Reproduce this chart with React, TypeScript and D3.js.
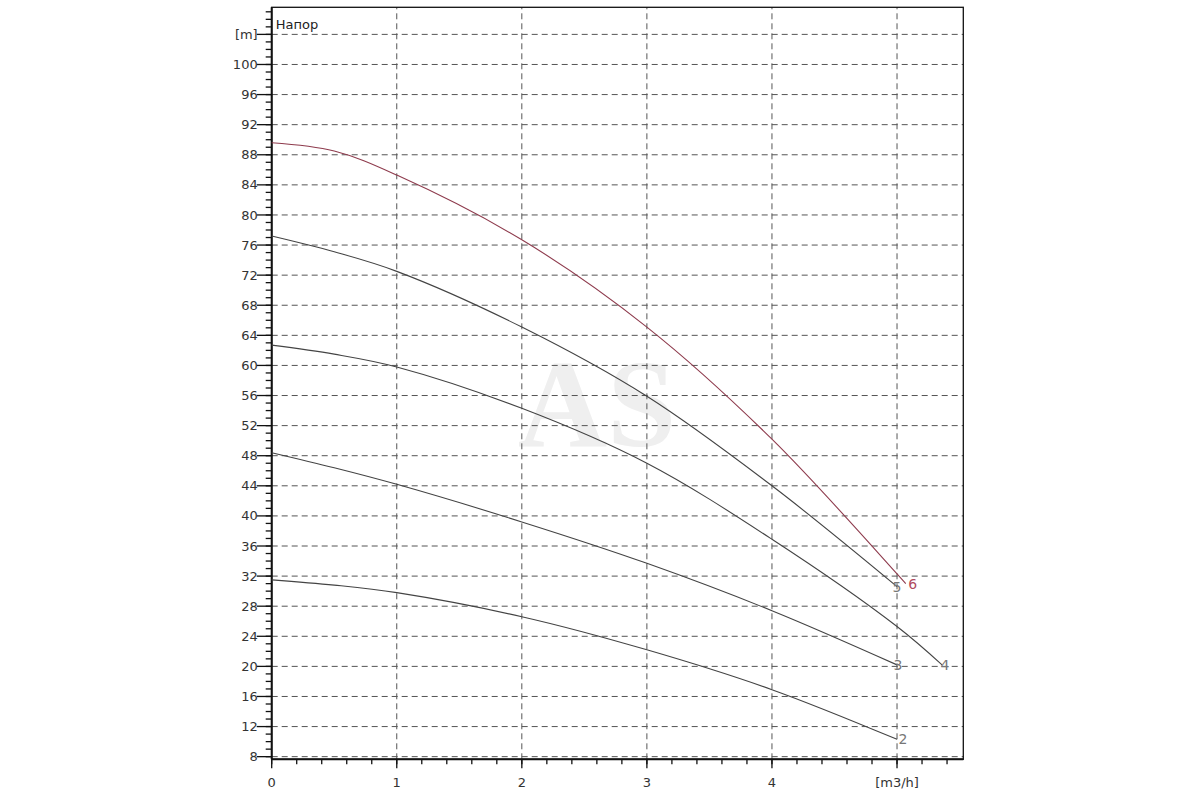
import React from 'react'
import * as d3 from 'd3'

// flow values [m3/h] where the curves were read
const flow = [0, 0.5, 1, 2, 3, 4, 5]

// head [m] per pump curve, same positions as `flow`
const head2 = [31.5, 30.8, 29.8, 26.6, 22.2, 16.9, 10.3]
const head3 = [48.4, 46.4, 44.2, 39.2, 33.7, 27.4, 20.2]
const head4 = [62.7, 61.5, 59.8, 54.3, 47.0, 36.9, 25.3]
const head5 = [77.2, 75.1, 72.5, 65.1, 55.9, 44.0, 30.6]
const head6 = [89.6, 88.5, 85.3, 76.7, 65.1, 50.2, 32.3]

// curves that run past x = 5
const tail4 = { x: 5.36, y: 20.2 }
const tail6 = { x: 5.07, y: 31.0 }

const yTicks = [8, 12, 16, 20, 24, 28, 32, 36, 40, 44, 48, 52, 56, 60, 64, 68, 72, 76, 80, 84, 88, 92, 96, 100]
const xTicks = [0, 1, 2, 3, 4]

const curves = [
  { id: '2', values: head2, tail: null, color: '#444', labelColor: '#777', dx: 6 },
  { id: '3', values: head3, tail: null, color: '#444', labelColor: '#777', dx: 1 },
  { id: '4', values: head4, tail: tail4, color: '#444', labelColor: '#777', dx: 3 },
  { id: '5', values: head5, tail: null, color: '#444', labelColor: '#777', dx: 0 },
  { id: '6', values: head6, tail: tail6, color: '#8e3b4d', labelColor: '#b04a5e', dx: 7 },
]

const App: React.FC = () => {
  const x = d3.scaleLinear().domain([0, 5.53]).range([271.7, 963.3])
  const y = d3.scaleLinear().domain([7.65, 107.6]).range([759.3, 7.3])

  const line = d3
    .line<{ x: number; y: number }>()
    .x((d) => x(d.x))
    .y((d) => y(d.y))
    .curve(d3.curveCatmullRom.alpha(0.5))

  const minorY = d3.range(8, 108, 1)
  const minorX = d3.range(0, 5.5, 0.2)
  const font = 'Tahoma, "DejaVu Sans", "Liberation Sans", sans-serif'
  const [x0, x1] = x.range()
  const [yb, yt] = y.range()

  return (
    <svg
      width={1200}
      height={800}
      style={{ position: 'absolute', left: 0, top: 0, background: '#fff' }}
      fontFamily={font}
    >
      {/* watermark */}
      <text
        x={597}
        y={446}
        textAnchor="middle"
        fontFamily='"Liberation Serif", "DejaVu Serif", serif'
        fontWeight="bold"
        fontSize={124}
        fill="#efefef"
      >
        AS
      </text>

      {/* grid */}
      {yTicks.concat([104]).map((t) => (
        <line key={'gy' + t} x1={x0} x2={x1} y1={y(t)} y2={y(t)} stroke="#555" strokeDasharray="6,4" />
      ))}
      {[1, 2, 3, 4, 5].map((t) => (
        <line key={'gx' + t} x1={x(t)} x2={x(t)} y1={yb} y2={yt} stroke="#555" strokeDasharray="6,4" />
      ))}

      {/* frame */}
      <rect x={x0} y={yt} width={x1 - x0} height={yb - yt} fill="none" stroke="#111" strokeWidth={1.3} />
      <line x1={x0} x2={x0} y1={yb} y2={yt} stroke="#111" strokeWidth={2} />
      <line x1={x0} x2={x1} y1={yb} y2={yb} stroke="#111" strokeWidth={2} />

      {/* y axis ticks */}
      {minorY.map((t) => (
        <line key={'my' + t} x1={x0 - 6} x2={x0} y1={y(t)} y2={y(t)} stroke="#111" strokeWidth={1.3} />
      ))}
      {yTicks.concat([104]).map((t) => (
        <line key={'My' + t} x1={x0 - 15} x2={x0} y1={y(t)} y2={y(t)} stroke="#111" strokeWidth={1.3} />
      ))}
      {yTicks.map((t) => (
        <text key={'ly' + t} x={x0 - 14} y={y(t)} dy="0.35em" textAnchor="end" fontSize={13} fill="#333">
          {t}
        </text>
      ))}
      <text x={x0 - 14} y={y(104)} dy="0.35em" textAnchor="end" fontSize={13} fill="#333">
        [m]
      </text>
      <text x={x0 + 4} y={y(104) - 5} fontSize={13} fill="#222">
        Напор
      </text>

      {/* x axis ticks */}
      {minorX.map((t) => (
        <line key={'mx' + t} x1={x(t)} x2={x(t)} y1={yb} y2={yb + 5} stroke="#111" strokeWidth={1.3} />
      ))}
      {[0, 1, 2, 3, 4, 5].map((t) => (
        <line key={'Mx' + t} x1={x(t)} x2={x(t)} y1={yb} y2={yb + 9} stroke="#111" strokeWidth={1.3} />
      ))}
      {xTicks.map((t) => (
        <text key={'lx' + t} x={x(t)} y={yb + 28} textAnchor="middle" fontSize={13} fill="#333">
          {t}
        </text>
      ))}
      <text x={x(5)} y={yb + 28} textAnchor="middle" fontSize={13} fill="#333">
        [m3/h]
      </text>

      {/* pump curves */}
      {curves.map((c) => {
        const pts = flow.map((f, i) => ({ x: f, y: c.values[i] }))
        if (c.tail) pts.push(c.tail)
        const end = pts[pts.length - 1]
        return (
          <g key={c.id}>
            <path d={line(pts) || ''} fill="none" stroke={c.color} strokeWidth={1.1} />
            <text
              x={x(end.x) + c.dx}
              y={y(end.y)}
              dy="0.35em"
              textAnchor="middle"
              fontSize={14}
              fill={c.labelColor}
            >
              {c.id}
            </text>
          </g>
        )
      })}
    </svg>
  )
}

export default App
